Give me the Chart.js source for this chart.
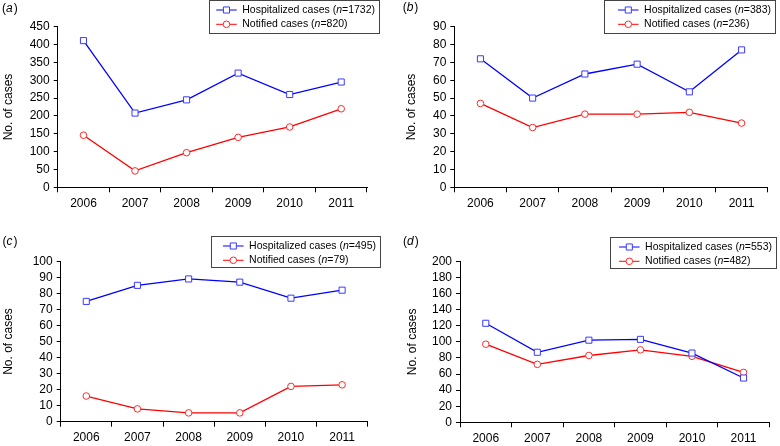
<!DOCTYPE html>
<html><head><meta charset="utf-8">
<script src="https://cdn.jsdelivr.net/npm/chart.js@4/dist/chart.umd.min.js"></script>
<style>
html,body{margin:0;padding:0;background:#fff;width:780px;height:446px;overflow:hidden}
canvas{position:absolute}
</style></head><body>
<canvas id="pa" width="390" height="223" style="left:0;top:0"></canvas>
<canvas id="pb" width="390" height="223" style="left:390px;top:0"></canvas>
<canvas id="pc" width="390" height="223" style="left:0;top:223px"></canvas>
<canvas id="pd" width="390" height="223" style="left:390px;top:223px"></canvas>
<script>
// ---- data ----
const years = ['2006', '2007', '2008', '2009', '2010', '2011'];
const panelLetters = ['a', 'b', 'c', 'd'];
const seriesNames = ['Hospitalized cases', 'Notified cases'];
const hospA = [411, 208, 245, 320, 260, 295];
const notifA = [146, 46, 97, 140, 169, 220];
const hospB = [72, 50, 63.5, 69, 53.5, 77];
const notifB = [47, 33.5, 41, 41, 42, 36];
const hospC = [75, 85, 89, 87, 77, 82];
const notifC = [16, 8, 5.5, 5.5, 22, 23];
const hospD = [123, 87, 102, 103, 86, 55];
const notifD = [97, 72, 83, 90, 82, 62];
const hospN = [1732, 383, 495, 553];
const notifN = [820, 236, 79, 482];
const yMax = [450, 90, 100, 200];
const yStep = [50, 10, 10, 20];

// ---- layout (pixels inside each 390x223 panel) ----
const layouts = [
  {id: 'pa', left: 57.7, right: 367, top: 26.7, bottom: 187.3, titlePad: 1.5, lab: {x: 2, y: 8.5}, box: {l: 209.5, t: 0.5, r: 379.5, b: 33.5}},
  {id: 'pb', left: 64.3, right: 377.7, top: 26.7, bottom: 187.3, titlePad: 14.8, lab: {x: 12.7, y: 7.5}, box: {l: 214.5, t: 0.5, r: 385.5, b: 33.5}},
  {id: 'pc', left: 60.7, right: 367.7, top: 38.3, bottom: 198.7, titlePad: 1.5, lab: {x: 2.5, y: 18.5}, box: {l: 211.5, t: 13.5, r: 380.5, b: 44.5}},
  {id: 'pd', left: 70, right: 379.3, top: 38.3, bottom: 199.3, titlePad: 15.5, lab: {x: 13, y: 19}, box: {l: 220.5, t: 14.5, r: 386.5, b: 45.5}}
];
const hospSeries = [hospA, hospB, hospC, hospD];
const notifSeries = [notifA, notifB, notifC, notifD];

const FONT = "'Liberation Sans', Arial, sans-serif";
const BLUE = '#0000ff', RED = '#ff0000';

const decorPlugin = {
  id: 'decor',
  afterDraw(chart) {
    const o = chart.options.plugins.decor;
    const ctx = chart.ctx;
    ctx.save();
    // panel label
    ctx.fillStyle = '#000';
    ctx.textBaseline = 'middle';
    ctx.textAlign = 'left';
    let x = o.lab.x;
    ctx.font = '12px ' + FONT;
    ctx.fillText('(', x, o.lab.y); x += ctx.measureText('(').width;
    ctx.font = 'italic 12px ' + FONT;
    ctx.fillText(o.letter, x, o.lab.y); x += ctx.measureText(o.letter).width + 1;
    ctx.font = '12px ' + FONT;
    ctx.fillText(')', x, o.lab.y);
    // legend box
    const b = o.box;
    ctx.fillStyle = '#fff';
    ctx.fillRect(b.l, b.t, b.r - b.l, b.b - b.t);
    ctx.strokeStyle = '#444';
    ctx.lineWidth = 1;
    ctx.strokeRect(b.l, b.t, b.r - b.l, b.b - b.t);
    const rows = chart.data.datasets.map((ds, i) => [
      [ds.label + ' (', '10.5px ' + FONT],
      ['n', 'italic 10.5px ' + FONT],
      ['=' + o.ns[i] + ')', '10.5px ' + FONT]
    ]);
    let maxW = 0;
    rows.forEach(parts => {
      let w = 0;
      parts.forEach(p => { ctx.font = p[1]; w += ctx.measureText(p[0]).width; });
      maxW = Math.max(maxW, w);
    });
    const tx0 = b.r - 4.5 - maxW;
    const lx1 = tx0 - 5.5, lx0 = lx1 - 20.5;
    chart.data.datasets.forEach((ds, i) => {
      const y = b.t + 9.5 + i * 14.3;
      ctx.strokeStyle = ds.borderColor;
      ctx.lineWidth = 1;
      ctx.beginPath(); ctx.moveTo(lx0, y); ctx.lineTo(lx1, y); ctx.stroke();
      const ps = {pointStyle: ds.pointStyle, radius: ds.pointRadius, borderWidth: 1, rotation: 0};
      ctx.fillStyle = '#fff';
      ctx.strokeStyle = ds.pointBorderColor;
      Chart.helpers.drawPoint(ctx, ps, (lx0 + lx1) / 2, y);
      ctx.fillStyle = '#000';
      ctx.textBaseline = 'middle';
      let tx = tx0;
      rows[i].forEach(p => { ctx.font = p[1]; ctx.fillText(p[0], tx, y); tx += ctx.measureText(p[0]).width; });
    });
    ctx.restore();
  }
};

layouts.forEach((L, k) => {
  new Chart(document.getElementById(L.id), {
    type: 'line',
    data: {
      labels: years,
      datasets: [
        {label: seriesNames[0], data: hospSeries[k], borderColor: BLUE, borderWidth: 1.3,
         pointStyle: 'rect', pointRadius: 4.3, pointBorderColor: '#3a3aff', pointBackgroundColor: '#fff', pointBorderWidth: 1},
        {label: seriesNames[1], data: notifSeries[k], borderColor: RED, borderWidth: 1.3,
         pointStyle: 'circle', pointRadius: 3.3, pointBorderColor: '#ff2a2a', pointBackgroundColor: '#fff', pointBorderWidth: 1}
      ]
    },
    options: {
      responsive: false,
      animation: false,
      events: [],
      layout: {padding: {left: 0, top: L.top, right: 390 - L.right, bottom: 0}},
      plugins: {
        legend: {display: false},
        tooltip: {enabled: false},
        decor: {letter: panelLetters[k], lab: L.lab, box: L.box, ns: [hospN[k], notifN[k]]}
      },
      scales: {
        x: {
          type: 'category',
          offset: true,
          grid: {display: true, offset: true, drawOnChartArea: false, drawTicks: true, tickLength: 5, color: '#000', tickColor: '#000'},
          border: {display: true, color: '#000', width: 1},
          ticks: {color: '#000', font: {family: FONT, size: 12}, padding: 4, maxRotation: 0, autoSkip: false},
          afterFit(s) { s.height = 223 - L.bottom; }
        },
        y: {
          min: 0, max: yMax[k],
          grid: {display: true, drawOnChartArea: false, drawTicks: true, tickLength: 4, color: '#000', tickColor: '#000'},
          border: {display: true, color: '#000', width: 1},
          ticks: {stepSize: yStep[k], autoSkip: false, color: '#000', font: {family: FONT, size: 12}, padding: 4},
          title: {display: true, text: 'No. of cases', color: '#000', font: {family: FONT, size: 12}, padding: {top: L.titlePad, bottom: 0}},
          afterFit(s) { s.width = L.left; }
        }
      }
    },
    plugins: [decorPlugin]
  });
});
</script>
</body></html>
